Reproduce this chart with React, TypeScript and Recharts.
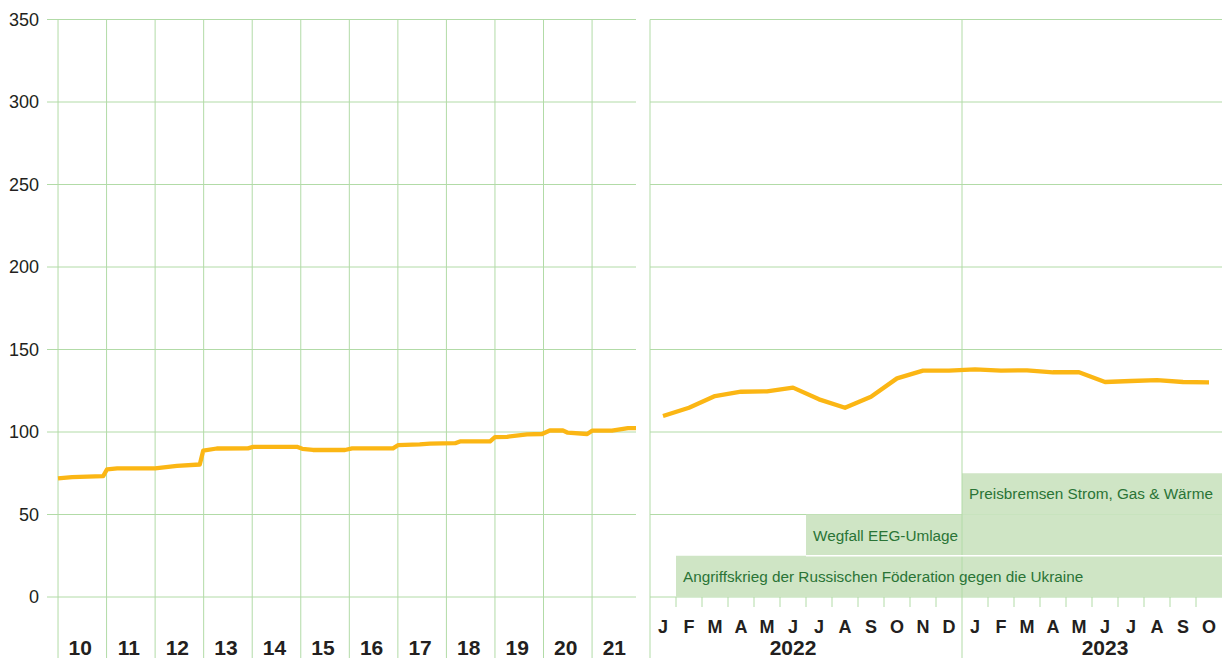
import React from "react";
import { LineChart, Line, XAxis, YAxis, CartesianGrid, ReferenceLine, ReferenceArea } from "recharts";

// ---------- data ----------
const yTicks = [0, 50, 100, 150, 200, 250, 300, 350];

const leftYears = [2010, 2011, 2012, 2013, 2014, 2015, 2016, 2017, 2018, 2019, 2020, 2021];
const leftYearLabels = ["10", "11", "12", "13", "14", "15", "16", "17", "18", "19", "20", "21"];

// index values (left panel), time in decimal years
const leftTimes = [
  2010.0, 2010.29, 2010.93, 2011.01, 2011.22, 2012.0, 2012.45, 2012.92, 2012.99, 2013.27,
  2013.91, 2014.02, 2014.92, 2015.03, 2015.25, 2015.91, 2016.06, 2016.9, 2017.0, 2017.45,
  2017.66, 2018.18, 2018.28, 2018.9, 2019.0, 2019.25, 2019.66, 2019.97, 2020.13, 2020.4,
  2020.5, 2020.9, 2021.0, 2021.41, 2021.74, 2021.91,
];
const leftValues = [
  71.9, 72.7, 73.3, 77.4, 78.0, 78.0, 79.5, 80.3, 88.7, 90.0,
  90.1, 91.0, 91.0, 89.8, 89.1, 89.1, 90.1, 90.1, 92.0, 92.5,
  93.0, 93.2, 94.3, 94.3, 96.9, 97.1, 98.6, 98.8, 100.9, 100.9,
  99.6, 98.8, 100.8, 100.8, 102.3, 102.3,
];

const rightMonthLetters = [
  "J", "F", "M", "A", "M", "J", "J", "A", "S", "O", "N", "D",
  "J", "F", "M", "A", "M", "J", "J", "A", "S", "O",
];
const rightYearLabels = ["2022", "2023"];
const rightValues = [
  109.7, 114.7, 121.8, 124.4, 124.6, 126.9, 119.8, 114.7, 121.4, 132.5, 137.2, 137.2,
  138.0, 137.2, 137.4, 136.2, 136.2, 130.3, 130.9, 131.5, 130.3, 130.1,
];

const bandLabels = [
  "Angriffskrieg der Russischen Föderation gegen die Ukraine",
  "Wegfall EEG-Umlage",
  "Preisbremsen Strom, Gas & Wärme",
];
const bandStartMonth = [1, 6, 12];
const bandLow = [0, 25, 50];
const bandHigh = [25, 50, 75];

// ---------- styling ----------
const GRID = "#b2dba7";
const BAND = "#cfe5c5";
const BAND_TEXT = "#2a7436";
const LINE = "#fbb614";
const DARK = "#231f20";
const FONT = "'Liberation Sans', Arial, Helvetica, sans-serif";

const leftData = leftTimes.map((t, i) => ({ t, v: leftValues[i] }));
const leftLabelTicks = leftYears.map((y) => y + 5.5 / 12);
const leftTicks = [...leftYears, ...leftLabelTicks].sort((a, b) => a - b);

const rightData = rightValues.map((v, i) => ({ m: i + 0.5, v }));
const nMonths = rightMonthLetters.length;
const rightBoundaryTicks = rightMonthLetters.map((_, i) => i);
const rightLabelTicks = rightMonthLetters.map((_, i) => i + 0.5);
const rightTicks = [...rightBoundaryTicks, ...rightLabelTicks].sort((a, b) => a - b);

const LeftTick = (props: any) => {
  const { x, y, payload } = props;
  const v = payload.value;
  const yi = leftYears.indexOf(v);
  if (yi >= 0) {
    return <line x1={x} x2={x} y1={y} y2={y + 61} stroke={GRID} strokeWidth={1} />;
  }
  const li = leftLabelTicks.indexOf(v);
  return (
    <text x={x} y={y + 58} textAnchor="middle" fontSize={21} fontWeight="bold" fill={DARK} fontFamily={FONT}>
      {leftYearLabels[li]}
    </text>
  );
};

const RightTick = (props: any) => {
  const { x, y, payload } = props;
  const v = payload.value;
  if (Number.isInteger(v)) {
    const full = v % 12 === 0;
    return <line x1={x} x2={x} y1={y} y2={y + (full ? 61 : 10)} stroke={GRID} strokeWidth={1} />;
  }
  const i = Math.floor(v);
  const yearLabel = i % 12 === 5 ? rightYearLabels[Math.floor(i / 12)] : null;
  return (
    <g>
      <text x={x} y={y + 36} textAnchor="middle" fontSize={18} fontWeight="bold" fill={DARK} fontFamily={FONT}>
        {rightMonthLetters[i]}
      </text>
      {yearLabel && (
        <text x={x} y={y + 58} textAnchor="middle" fontSize={21} fontWeight="bold" fill={DARK} fontFamily={FONT}>
          {yearLabel}
        </text>
      )}
    </g>
  );
};

export default function App() {
  return (
    <div style={{ position: "absolute", left: 0, top: 0, width: 1224, height: 658, background: "#fff", fontFamily: FONT, overflow: "hidden" }}>
      <div style={{ position: "absolute", left: 0, top: 0 }}>
        <LineChart width={640} height={658} data={leftData} margin={{ top: 19.5, right: 4, bottom: 0, left: 0 }}>
          <XAxis
            dataKey="t"
            type="number"
            domain={[2009.773, 2021.905]}
            ticks={leftTicks}
            interval={0}
            tick={<LeftTick />}
            tickLine={false}
            axisLine={false}
            tickSize={0}
            tickMargin={0}
            height={61}
            allowDataOverflow
          />
          <YAxis
            type="number"
            domain={[0, 350]}
            ticks={yTicks}
            width={47}
            axisLine={false}
            tickLine={false}
            tick={{ fontSize: 18, fill: DARK, fontFamily: FONT }}
          />
          {leftYears.map((yr) => (
            <ReferenceLine key={yr} x={yr} stroke={GRID} strokeWidth={1} />
          ))}
          <CartesianGrid vertical={false} stroke={GRID} strokeWidth={1} />
          <Line dataKey="v" stroke={LINE} strokeWidth={4.3} dot={false} isAnimationActive={false} strokeLinejoin="round" />
        </LineChart>
      </div>
      <div style={{ position: "absolute", left: 640, top: 0 }}>
        <LineChart width={584} height={658} data={rightData} margin={{ top: 19.5, right: 2, bottom: 0, left: 10 }}>
          <XAxis
            dataKey="m"
            type="number"
            domain={[0, nMonths]}
            ticks={rightTicks}
            interval={0}
            tick={<RightTick />}
            tickLine={false}
            axisLine={false}
            tickSize={0}
            tickMargin={0}
            height={61}
          />
          <YAxis type="number" domain={[0, 350]} ticks={yTicks} hide width={0} />
          <ReferenceLine x={0} stroke={GRID} strokeWidth={1} />
          <ReferenceLine x={12} stroke={GRID} strokeWidth={1} />
          {bandLabels.map((lab, k) => (
            <ReferenceArea
              key={lab}
              x1={bandStartMonth[k]}
              x2={nMonths}
              y1={bandLow[k]}
              y2={bandHigh[k]}
              fill={BAND}
              fillOpacity={1}
              stroke="none"
              label={{ value: lab, position: "insideLeft", offset: 7, fill: BAND_TEXT, fontSize: 15.3, fontFamily: FONT }}
            />
          ))}
          <ReferenceLine
            segment={[
              { x: bandStartMonth[1], y: bandHigh[0] },
              { x: nMonths, y: bandHigh[0] },
            ]}
            stroke="#ffffff"
            strokeWidth={1.5}
          />
          <CartesianGrid vertical={false} stroke={GRID} strokeWidth={1} />
          <Line dataKey="v" stroke={LINE} strokeWidth={4.3} dot={false} isAnimationActive={false} strokeLinejoin="round" />
        </LineChart>
      </div>
    </div>
  );
}
